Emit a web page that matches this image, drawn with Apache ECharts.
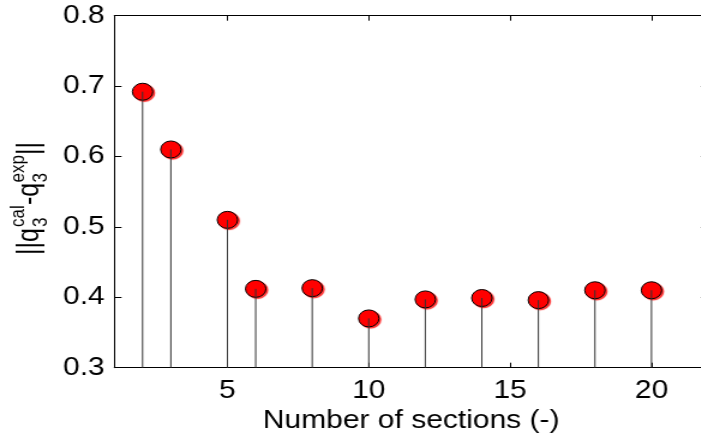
<!DOCTYPE html>
<html>
<head>
<meta charset="utf-8">
<title>Error norm vs number of sections</title>
<script src="https://cdn.jsdelivr.net/npm/echarts@6.0.0/dist/echarts.min.js"></script>
<style>
  html, body { margin: 0; padding: 0; background: #fff; }
  body { width: 701px; height: 439px; overflow: hidden; }
  /* the original figure is stretched horizontally, so the chart is drawn narrow and scaled */
  #wrap { width: 600px; height: 439px; transform: scaleX(1.2); transform-origin: 0 0; }
  #chart { width: 600px; height: 439px; }
</style>
</head>
<body>
<div id="wrap"><div id="chart"></div></div>
<script>
// data
const sections = [2, 3, 5, 6, 8, 10, 12, 14, 16, 18, 20];
const errorNorm = [0.692, 0.610, 0.510, 0.412, 0.413, 0.370, 0.397, 0.399, 0.396, 0.410, 0.410];
const xTicks = [5, 10, 15, 20];
const yTicks = [0.3, 0.4, 0.5, 0.6, 0.7, 0.8];

const FONT = '"Liberation Sans", Arial, sans-serif';
const points = sections.map((s, i) => [s, errorNorm[i]]);

const chart = echarts.init(document.getElementById('chart'));

const xBase = {
  type: 'value',
  min: 1,
  max: 22,
  axisLine: { lineStyle: { color: '#000', width: 1 } },
  axisTick: { inside: true, length: 5, customValues: xTicks, lineStyle: { color: '#000' } },
  splitLine: { show: false }
};
const yBase = {
  type: 'value',
  min: yTicks[0],
  max: yTicks[yTicks.length - 1],
  interval: 0.1,
  axisLine: { show: true, lineStyle: { color: '#000', width: 1 } },
  axisTick: { show: true, inside: true, length: 6, lineStyle: { color: '#000' } },
  splitLine: { show: false }
};

const option = {
  animation: false,
  grid: { left: 95.25, right: 10, top: 15.7, bottom: 71.3, containLabel: false },
  xAxis: [
    Object.assign({}, xBase, {
      position: 'bottom',
      axisLabel: {
        customValues: xTicks, margin: 11,
        fontFamily: FONT, fontSize: 25, color: '#000'
      },
      name: 'Number of sections (-)',
      nameLocation: 'middle',
      nameGap: 39,
      nameTextStyle: { fontFamily: FONT, fontSize: 25, color: '#000', verticalAlign: 'top' }
    }),
    Object.assign({}, xBase, { position: 'top', axisLabel: { show: false } })
  ],
  yAxis: [
    Object.assign({}, yBase, {
      position: 'left',
      axisLabel: {
        margin: 8, fontFamily: FONT, fontSize: 25, color: '#000',
        formatter: v => v.toFixed(1)
      }
    }),
    Object.assign({}, yBase, { position: 'right', axisLabel: { show: false } })
  ],
  // y axis title: ||q_3^cal - q_3^exp||, sub and sup stacked like the original
  graphic: [{
    type: 'group',
    x: 25,
    y: 255,
    rotation: Math.PI / 2,
    children: [
      { type: 'text', x: 0, y: 0, style: { text: '||q', font: '25px ' + FONT, fill: '#000', verticalAlign: 'middle' } },
      { type: 'text', x: 28, y: -10, style: { text: 'cal', font: '17px ' + FONT, fill: '#000', verticalAlign: 'middle' } },
      { type: 'text', x: 28, y: 9, style: { text: '3', font: '17px ' + FONT, fill: '#000', verticalAlign: 'middle' } },
      { type: 'text', x: 50, y: 0, style: { text: '-q', font: '25px ' + FONT, fill: '#000', verticalAlign: 'middle' } },
      { type: 'text', x: 72.5, y: -10, style: { text: 'exp', font: '17px ' + FONT, fill: '#000', verticalAlign: 'middle' } },
      { type: 'text', x: 72.5, y: 9, style: { text: '3', font: '17px ' + FONT, fill: '#000', verticalAlign: 'middle' } },
      { type: 'text', x: 100, y: 0, style: { text: '||', font: '25px ' + FONT, fill: '#000', verticalAlign: 'middle' } }
    ]
  }],
  series: [
    {
      type: 'scatter',
      data: points,
      symbol: 'circle',
      symbolSize: [17, 17],
      z: 2,
      itemStyle: {
        color: '#ff0000',
        borderColor: '#000',
        borderWidth: 1,
        shadowColor: 'rgba(255,0,0,0.8)',
        shadowBlur: 1,
        shadowOffsetX: 1.5,
        shadowOffsetY: 1.2,
        opacity: 1
      }
    },
    {
      // stems from the bottom of the axis to each value
      type: 'custom',
      data: points,
      z: 3,
      renderItem: (params, api) => {
        const top = api.coord([api.value(0), api.value(1)]);
        const bottom = api.coord([api.value(0), yTicks[0]]);
        return {
          type: 'line',
          shape: { x1: top[0], y1: top[1], x2: bottom[0], y2: bottom[1] },
          style: { stroke: '#333', lineWidth: 1 }
        };
      }
    }
  ]
};

chart.setOption(option);
</script>
</body>
</html>
